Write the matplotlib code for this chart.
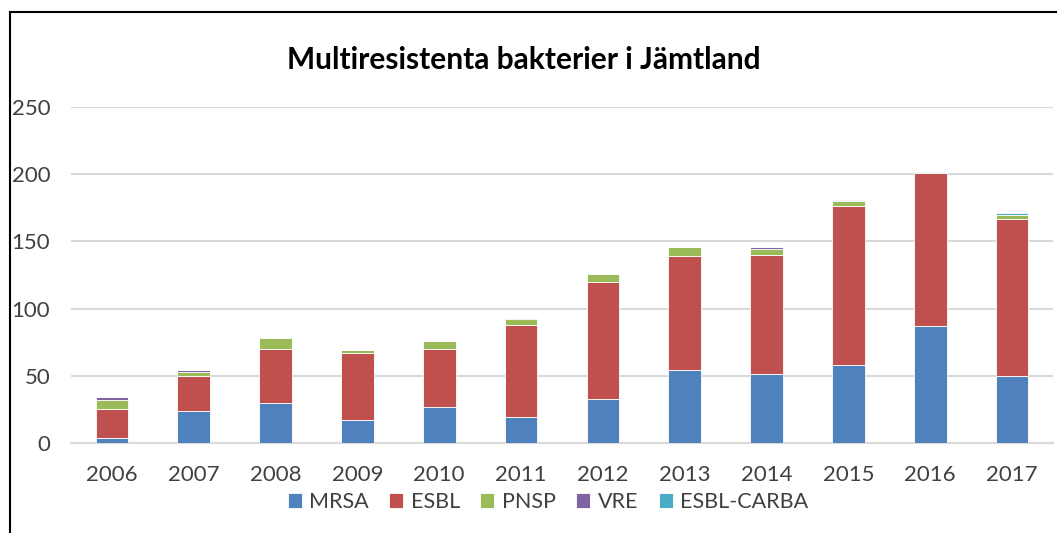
import matplotlib.pyplot as plt
from matplotlib.lines import Line2D
import numpy as np

years = ['2006', '2007', '2008', '2009', '2010', '2011',
         '2012', '2013', '2014', '2015', '2016', '2017']

# counts per year
mrsa = [4, 24, 30, 17, 27, 19, 33, 54, 51, 58, 87, 50]
esbl = [21, 26, 40, 50, 43, 69, 87, 85, 89, 118, 114, 117]
pnsp = [7, 3, 8, 2, 6, 4, 6, 7, 4, 4, 0, 3]
vre = [2, 1, 0, 0, 0, 1, 0, 0, 2, 0, 0, 0]
esbl_carba = [0, 0, 0, 0, 0, 0, 0, 0, 0, 1, 1, 1]

series = [('MRSA', mrsa, '#4F81BD'),
          ('ESBL', esbl, '#C0504D'),
          ('PNSP', pnsp, '#9BBB59'),
          ('VRE', vre, '#8064A2'),
          ('ESBL-CARBA', esbl_carba, '#4BACC6')]

plt.rcParams['font.family'] = ['Lato', 'DejaVu Sans']

fig = plt.figure(figsize=(10.57, 5.33), dpi=100)
ax = fig.add_axes([71 / 1057, 1 - 443 / 533, (1053 - 71) / 1057, (443 - 107) / 533])

x = np.arange(len(years))
bottom = np.zeros(len(years))
for name, vals, color in series:
    vals = np.array(vals, dtype=float)
    ax.bar(x, vals, width=0.4, bottom=bottom, color=color, label=name,
           edgecolor='white', linewidth=0.6, zorder=3)
    bottom += vals

ax.set_ylim(0, 250)
ax.set_xlim(-0.5, len(years) - 0.5)
ax.set_yticks(range(0, 251, 50))
ax.set_xticks(x)
ax.set_xticklabels(years)
ax.yaxis.grid(True, color='#D9D9D9', linewidth=1.5, zorder=0)
ax.tick_params(axis='both', length=0, labelsize=16, colors='#404040')
ax.tick_params(axis='y', pad=15)
ax.tick_params(axis='x', pad=16)
for s in ['top', 'right', 'left']:
    ax.spines[s].set_visible(False)
ax.spines['bottom'].set_color('#D9D9D9')
ax.spines['bottom'].set_linewidth(1.5)

fig.text(524 / 1057, 1 - 60 / 533, 'Multiresistenta bakterier i Jämtland',
         ha='center', va='center', fontsize=21.5, fontweight='bold', color='black')

fig.legend(loc='center', bbox_to_anchor=(548 / 1057, 1 - 502 / 533), ncol=5,
           frameon=False, fontsize=15.5, handlelength=0.65, handleheight=0.65,
           handletextpad=0.35, columnspacing=0.95, labelcolor='#404040')

# outer frame (left and top edges only)
fig.add_artist(Line2D([10 / 1057, 10 / 1057], [0, 1 - 12 / 533], color='black', linewidth=1.5))
fig.add_artist(Line2D([10 / 1057, 1], [1 - 12 / 533, 1 - 12 / 533], color='black', linewidth=1.5))

fig.savefig('out.png', dpi=100)
